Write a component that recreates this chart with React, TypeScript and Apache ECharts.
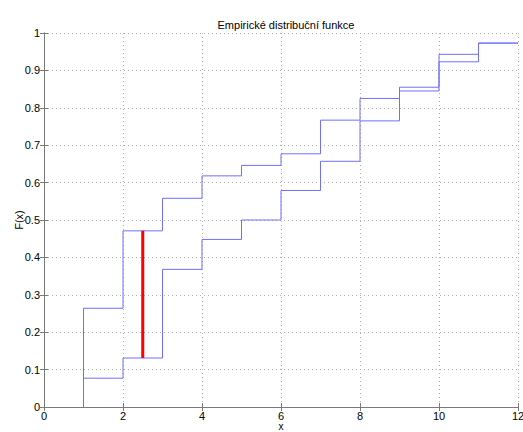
import React, { useEffect, useRef } from "react";
import * as echarts from "echarts";

const stepX = [1, 2, 3, 4, 5, 6, 7, 8, 9, 10, 11, 12];
const seriesA = [0.264, 0.471, 0.558, 0.618, 0.646, 0.677, 0.767, 0.825, 0.845, 0.943, 0.973, 0.973];
const seriesB = [0.077, 0.131, 0.368, 0.448, 0.5, 0.579, 0.657, 0.765, 0.855, 0.923, 0.973, 0.973];
const diffX = 2.5;
const diffLow = 0.131;
const diffHigh = 0.471;
const xTicks = [0, 2, 4, 6, 8, 10, 12];
const yTicks = [0, 0.1, 0.2, 0.3, 0.4, 0.5, 0.6, 0.7, 0.8, 0.9, 1];

const FONT = "'Liberation Sans', Arial, sans-serif";
const AXIS_COLOR = "#7a7a7a";
const LINE_COLOR = "#6f6fff";

function stepData(vals: number[]) {
  const d: number[][] = [[stepX[0], 0]];
  stepX.forEach((x, i) => d.push([x, vals[i]]));
  return d;
}

export default function App() {
  const ref = useRef<HTMLDivElement>(null);
  useEffect(() => {
    if (!ref.current) return;
    const chart = echarts.init(ref.current, undefined, { renderer: "svg" });
    const commonAxis = {
      axisLine: { show: true, lineStyle: { color: AXIS_COLOR, width: 1 } },
      axisTick: { show: true, inside: true, length: 4, lineStyle: { color: AXIS_COLOR } },
    };
    chart.setOption({
      animation: false,
      backgroundColor: "#ffffff",
      title: {
        text: "Empirické distribuční funkce",
        left: 281,
        textAlign: "center",
        top: 14,
        textStyle: { fontFamily: FONT, fontSize: 11, fontWeight: "normal", color: "#000" },
      },
      grid: { left: 44, right: 5, top: 33, bottom: 25, containLabel: false, outerBoundsMode: "none" },
      xAxis: [
        {
          type: "value",
          min: 0,
          max: 12,
          interval: 2,
          position: "bottom",
          name: "x",
          nameLocation: "middle",
          nameGap: 14,
          nameMoveOverlap: false,
          nameTextStyle: {
            fontFamily: FONT,
            fontSize: 10,
            lineHeight: 10,
            color: "#000",
            verticalAlign: "top",
          },
          ...commonAxis,
          axisLabel: {
            fontFamily: FONT,
            fontSize: 11,
            lineHeight: 11,
            color: "#000",
            margin: 3,
            formatter: (v: number) => (xTicks.includes(v) ? String(v) : ""),
          },
          splitLine: { show: true, lineStyle: { type: [1, 3], color: "#b0b0b0", width: 1 } },
        },
        {
          type: "value",
          min: 0,
          max: 12,
          interval: 2,
          position: "top",
          ...commonAxis,
          axisLabel: { show: false },
          splitLine: { show: false },
        },
      ],
      yAxis: [
        {
          type: "value",
          min: 0,
          max: 1,
          interval: 0.1,
          position: "left",
          name: "F(x)",
          nameLocation: "middle",
          nameGap: 20,
          nameMoveOverlap: false,
          nameRotate: 90,
          nameTextStyle: { fontFamily: FONT, fontSize: 11, color: "#000" },
          ...commonAxis,
          axisLabel: {
            fontFamily: FONT,
            fontSize: 11,
            color: "#000",
            margin: 4,
            formatter: (v: number) => {
              const t = yTicks.find((y) => Math.abs(y - v) < 1e-6);
              return t === undefined ? "" : String(Math.round(t * 10) / 10);
            },
          },
          splitLine: { show: true, lineStyle: { type: [1, 3], color: "#b0b0b0", width: 1 } },
        },
        {
          type: "value",
          min: 0,
          max: 1,
          interval: 0.1,
          position: "right",
          ...commonAxis,
          axisLabel: { show: false },
          splitLine: { show: false },
        },
      ],
      series: [
        {
          type: "line",
          step: "end",
          data: stepData(seriesA),
          showSymbol: false,
          symbol: "none",
          lineStyle: { color: LINE_COLOR, width: 1 },
          silent: true,
        },
        {
          type: "line",
          step: "end",
          data: stepData(seriesB),
          showSymbol: false,
          symbol: "none",
          lineStyle: { color: LINE_COLOR, width: 1 },
          silent: true,
        },
        {
          type: "line",
          data: [
            [diffX, diffLow],
            [diffX, diffHigh],
          ],
          showSymbol: false,
          symbol: "none",
          lineStyle: { color: "#ff0000", width: 3 },
          silent: true,
        },
      ],
    });
    return () => chart.dispose();
  }, []);
  return <div ref={ref} style={{ width: 523, height: 432, position: "absolute", left: 0, top: 0 }} />;
}
